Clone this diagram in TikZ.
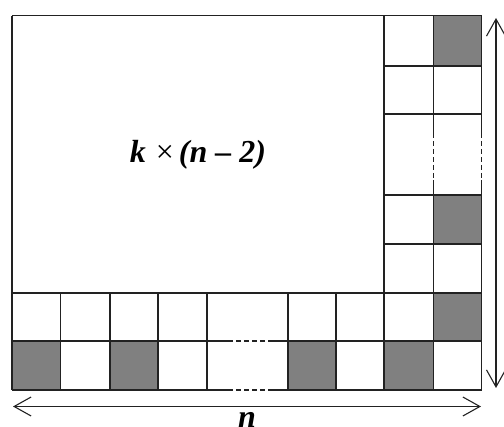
\documentclass[tikz,border=0pt]{standalone}
\usepackage{fontspec}
\setmainfont{Liberation Serif}
\usetikzlibrary{arrows.meta}
\definecolor{shade}{HTML}{808080}
\definecolor{ink}{HTML}{222222}
\begin{document}
\begin{tikzpicture}[x=1pt,y=-1pt,
  grid/.style={draw=ink,line width=1.3pt},
  dotted gap/.style={draw=ink,line width=1.3pt,dash pattern=on 5pt off 3pt},
  cellfill/.style={fill=shade},
  dimarrow/.style={draw=ink,line width=1.1pt,{Straight Barb[length=17pt,width=19pt]}-{Straight Barb[length=17pt,width=19pt]}},
  label/.style={font=\fontsize{32}{32}\selectfont\bfseries\itshape,inner sep=0pt}]
\useasboundingbox (0,0) rectangle (504,427);
% shaded cells
\foreach \xa/\ya/\xb/\yb in {433.7/15.7/481.7/66, 433.7/195/481.7/244, 433.7/293/481.7/341,
  384/341/433.7/390, 12/341/60.5/390, 110/341/158/390, 288/341/336/390}
  \fill[cellfill] (\xa,\ya) rectangle (\xb,\yb);
% horizontal lines
\draw[grid] (12,15.7) -- (481.7,15.7);
\foreach \y in {66,114,195,244} \draw[grid] (384,\y) -- (481.7,\y);
\draw[grid] (12,293) -- (481.7,293);
\foreach \y in {341,390} {
  \draw[grid] (12,\y) -- (228,\y);
  \draw[dotted gap] (228,\y) -- (270,\y);
  \draw[grid] (270,\y) -- (481.7,\y);
}
% vertical lines
\draw[grid] (12,15.7) -- (12,390);
\foreach \x in {60.5,110,158,207,288,336} \draw[grid] (\x,293) -- (\x,390);
\draw[grid] (384,15.7) -- (384,390);
\foreach \x in {433.7,481.7} {
  \draw[grid] (\x,15.7) -- (\x,133);
  \draw[dotted gap] (\x,133) -- (\x,180);
  \draw[grid] (\x,180) -- (\x,390);
}
% dimension arrows
\coordinate (hl) at (13,406.5);
\coordinate (hr) at (481,406.5);
\coordinate (vt) at (496,18);
\coordinate (vb) at (496,388);
\draw[dimarrow] (hl) -- (hr);
\draw[dimarrow] (vt) -- (vb);
% labels
\node[label] (area) at (198,155) {k\hspace{10pt}{\mdseries\upshape×}\hspace{5pt}(n – 2)};
\node[label,anchor=base] (nlab) at (247,428) {n};
\end{tikzpicture}
\end{document}
